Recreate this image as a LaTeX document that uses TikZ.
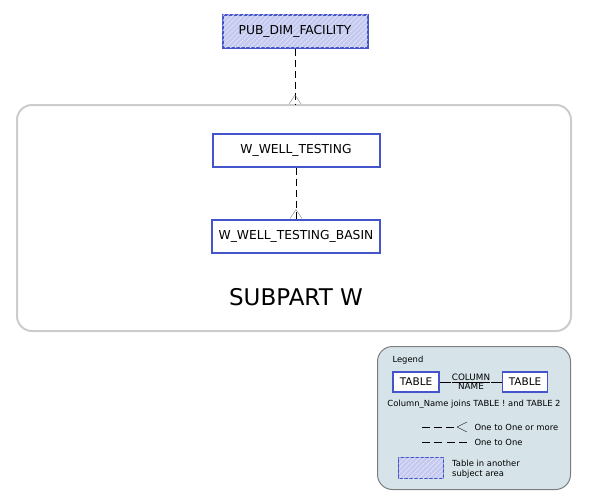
\documentclass[tikz,border=0pt]{standalone}
\usepackage{fontspec}
\setmainfont{DejaVu Sans}
\usetikzlibrary{positioning}
\usetikzlibrary{patterns.meta}
\definecolor{tblue}{RGB}{68,85,204}
\definecolor{tfill}{RGB}{196,201,240}
\definecolor{sgray}{RGB}{204,204,204}
\definecolor{lgfill}{RGB}{214,228,234}
\definecolor{lgdraw}{RGB}{125,125,125}
\tikzstyle{table} = [rectangle, draw=tblue, line width=2pt, fill=white,
inner sep=0pt, text centered, font=\fontsize{12.3}{14}\selectfont]
\tikzstyle{other} = [table, fill=tfill,
postaction={pattern={Lines[angle=45, distance=3.5pt, line width=0.8pt]}, pattern color=white!45!tfill}]
\tikzstyle{rel} = [thick, dash pattern=on 7pt off 4pt]
\tikzstyle{foot} = [gray!90!black]
% crow's foot at the end of a relation (#1) coming down into it
\newcommand{\crowsfoot}[1]{%
  \draw[foot] ([yshift=9pt]#1) -- ++(-6pt,-9pt) ([yshift=9pt]#1) -- ++(6pt,-9pt);}

\begin{document}
\begin{tikzpicture}[x=1pt, y=-1pt]
\useasboundingbox (0,0) rectangle (591,501);

% subject area
\node[draw=sgray, line width=2pt, rounded corners=15pt, minimum width=554pt,
  minimum height=226pt, inner sep=0pt] (subpart) at (294,218) {};
\node[font=\fontsize{23}{26}\selectfont] (subname) at (296,297) {SUBPART W};

% tables
\node[other, minimum width=145pt, minimum height=33pt] (pub) at (295,31) {PUB\_DIM\_FACILITY};
\node[table, minimum width=167pt, minimum height=33pt] (wwt) at (296,150) {W\_WELL\_TESTING};
\node[table, minimum width=168pt, minimum height=33pt, below=51pt of wwt] (wwtb) {W\_WELL\_TESTING\_BASIN};

% relations
\draw[rel] (pub.south) -- (pub.south |- subpart.north) coordinate (pubend);
\crowsfoot{pubend}
\draw[rel] (wwt.south) -- (wwtb.north) coordinate (wwtend);
\crowsfoot{wwtend}

% legend
\begin{scope}[font=\fontsize{8.4}{9.8}\selectfont]
\node[draw=lgdraw, fill=lgfill, line width=1pt, rounded corners=15pt, minimum width=193pt,
  minimum height=143pt, inner sep=0pt] (legend) at (474,418) {};
\node[anchor=west] (lgtitle) at (389,360) {Legend};
\node[table, line width=1.6pt, minimum width=46pt, minimum height=20pt,
  font=\fontsize{10.5}{12}\selectfont] (lgt1) at (416,382) {TABLE};
\node[table, line width=1.6pt, minimum width=45pt, minimum height=20pt,
  font=\fontsize{10.5}{12}\selectfont] (lgt2) at (525,382) {TABLE};
\node[inner sep=1pt, align=center, font=\fontsize{8.8}{9}\selectfont] (lgcol) at (471,382)
  {\underline{COLUMN}\\NAME};
\draw (lgt1.east) -- (lgcol.west |- lgt1.east);
\draw (lgcol.east |- lgt2.west) -- (lgt2.west);
\node (lgjoin) at (474,404) {Column\_Name joins TABLE ! and TABLE 2};
\coordinate (many1) at (422,427);
\coordinate (many2) at (467,427);
\draw[dash pattern=on 8pt off 4pt] (many1) -- ([xshift=-10pt]many2);
\draw ([xshift=-10pt]many2) -- ++(10pt,-5pt) ([xshift=-10pt]many2) -- ++(10pt,5pt);
\node[anchor=west] (lgmany) at (471,427) {One to One or more};
\coordinate (one1) at (422,442);
\coordinate (one2) at (467,442);
\draw[dash pattern=on 8pt off 4.3pt] (one1) -- (one2);
\node[anchor=west] (lgone) at (471,442) {One to One};
\node[other, line width=1.6pt, minimum width=45pt, minimum height=21pt] (lgother) at (421,468) {};
\node[anchor=west, align=left, inner sep=0pt] (lgotext) at (452,469) {Table in another\\subject area};
\end{scope}
\end{tikzpicture}
\end{document}
